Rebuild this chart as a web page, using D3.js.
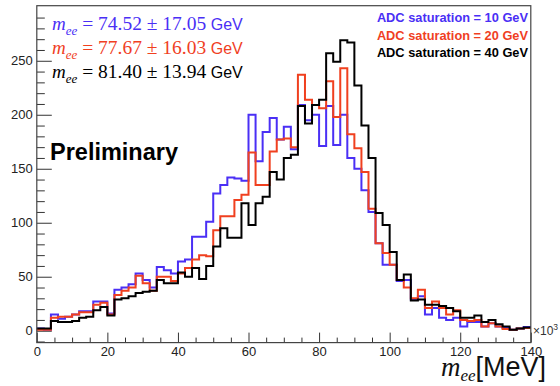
<!DOCTYPE html>
<html>
<head>
<meta charset="utf-8">
<script src="https://cdn.jsdelivr.net/npm/d3@7"></script>
<style>
  body { margin: 0; background: #fff; }
  text { font-family: "Liberation Sans", Arial, Helvetica, sans-serif; }
</style>
</head>
<body>
<script>
// bins: 70 bins of 2 GeV from 0 to 140 (x10^3 MeV)
var binEdges = d3.range(0, 141, 2);

var sat10 = [2, 1, 15, 11, 13, 15, 18, 18, 27, 27,
  16, 38, 40, 43, 53, 47, 40, 59, 56, 53,
  64, 66, 87, 87, 101, 127, 135, 142, 141, 139,
  200, 157, 184, 197, 177, 189, 168, 209, 195, 200,
  171, 208, 172, 200, 160, 150, 130, 110, 81, 61,
  61, 46, 47, 29, 32, 15, 21, 12, 10, 12,
  4, 8, 8, 4, 7, 4, 2.5, 1, 2, 3.5];

var sat20 = [1, 1, 12, 13, 13, 15, 17, 17, 24, 26,
  15, 33, 37, 40, 51, 44, 37, 50, 50, 46,
  53, 58, 66, 70, 69, 93, 106, 106, 121, 126,
  165, 135, 135, 166, 177, 178, 170, 237, 214, 209,
  206, 231, 198, 243, 182, 169, 147, 113, 81, 72,
  61, 47, 40, 30, 38, 21, 27, 21, 15, 19,
  10, 9, 10, 4, 7, 4, 1.5, 1, 2, 2.5];

var sat40 = [2, 2, 9, 8, 8, 9, 12, 13, 19, 22,
  14, 29, 30, 32, 35, 36, 37, 47, 44, 44,
  54, 50, 58, 48, 60, 78, 95, 86, 86, 118,
  98, 118, 124, 147, 140, 160, 163, 208, 192, 209,
  214, 257, 249, 269, 267, 227, 190, 160, 109, 98,
  73, 47, 52, 28, 29, 24, 24, 23, 21, 18,
  12, 12, 14, 8, 10, 6, 4, 1, 2, 3];

var seriesNames = ['ADC saturation = 10 GeV', 'ADC saturation = 20 GeV', 'ADC saturation = 40 GeV'];
var seriesColors = ['#4a2ff5', '#f0401f', '#000000'];
var meanLabels = ['74.52', '77.67', '81.40'];
var rmsLabels = ['17.05', '16.03', '13.94'];

var xMajor = [0, 20, 40, 60, 80, 100, 120, 140];
var yMajor = [0, 50, 100, 150, 200, 250];

var width = 560, height = 386;

var x = d3.scaleLinear().domain([0, 140]).range([36.8, 530.8]);
var y = d3.scaleLinear().domain([-11, 301]).range([342.6, 5.7]);

var svg = d3.select('body').append('svg')
  .attr('width', width)
  .attr('height', height);

// minor ticks
svg.append('g')
  .attr('transform', 'translate(0,' + y(-11) + ')')
  .call(d3.axisBottom(x)
    .tickValues(d3.range(0, 141, 5).filter(function(d) { return d % 20 !== 0; }))
    .tickSize(-5).tickFormat(''))
  .call(function(g) { g.select('.domain').remove(); });

svg.append('g')
  .attr('transform', 'translate(' + x(0) + ',0)')
  .call(d3.axisLeft(y)
    .tickValues(d3.range(-10, 301, 10).filter(function(d) { return d % 50 !== 0; }))
    .tickSize(-8).tickFormat(''))
  .call(function(g) { g.select('.domain').remove(); });

// major ticks
svg.append('g')
  .attr('transform', 'translate(0,' + y(-11) + ')')
  .call(d3.axisBottom(x).tickValues(xMajor).tickSize(-10).tickPadding(4))
  .call(function(g) { g.select('.domain').remove(); });

svg.append('g')
  .attr('transform', 'translate(' + x(0) + ',0)')
  .call(d3.axisLeft(y).tickValues(yMajor).tickSize(-15).tickPadding(4))
  .call(function(g) { g.select('.domain').remove(); });

svg.selectAll('.tick line').attr('stroke', '#333');
svg.selectAll('.tick text')
  .attr('fill', '#222')
  .style('font-size', '13px')
  .style('font-family', '"Liberation Sans", Arial, sans-serif');

// histograms
var line = d3.line()
  .x(function(d) { return x(d[0]); })
  .y(function(d) { return y(d[1]); })
  .curve(d3.curveStepAfter);

[sat10, sat20, sat40].forEach(function(vals, k) {
  var pts = vals.map(function(v, i) { return [binEdges[i], v]; });
  pts.push([binEdges[binEdges.length - 1], vals[vals.length - 1]]);
  svg.append('path')
    .datum(pts)
    .attr('d', line)
    .attr('fill', 'none')
    .attr('stroke', seriesColors[k])
    .attr('stroke-width', 2);
});

// frame
svg.append('rect')
  .attr('x', x(0)).attr('y', y(301))
  .attr('width', x(140) - x(0)).attr('height', y(-11) - y(301))
  .attr('fill', 'none')
  .attr('stroke', '#444')
  .attr('stroke-width', 1.2);

// mean +- rms labels
meanLabels.forEach(function(m, k) {
  var t = svg.append('text')
    .attr('x', 52)
    .attr('y', 29.5 + k * 24.3)
    .attr('fill', seriesColors[k]);
  t.append('tspan')
    .style('font-family', '"Liberation Serif", "Times New Roman", serif')
    .style('font-style', 'italic')
    .style('font-size', '19px')
    .text('m');
  t.append('tspan')
    .attr('dy', 5)
    .style('font-family', '"Liberation Serif", "Times New Roman", serif')
    .style('font-style', 'italic')
    .style('font-size', '13px')
    .text('ee');
  t.append('tspan')
    .attr('dy', -5)
    .style('font-family', '"Liberation Serif", "Times New Roman", serif')
    .style('font-size', '19.5px')
    .text(' = ' + m + ' \u00b1 ' + rmsLabels[k]);
  t.append('tspan')
    .style('font-size', '16px')
    .text(' GeV');
});

// saturation legend
seriesNames.forEach(function(s, k) {
  svg.append('text')
    .attr('x', 528)
    .attr('y', 22.3 + k * 17.2)
    .attr('text-anchor', 'end')
    .attr('fill', seriesColors[k])
    .style('font-weight', 'bold')
    .style('font-size', '12.8px')
    .text(s);
});

svg.append('text')
  .attr('x', 50)
  .attr('y', 159.5)
  .style('font-weight', 'bold')
  .style('font-size', '23.5px')
  .attr('fill', '#000')
  .text('Preliminary');

// x10^3
var e = svg.append('text')
  .attr('x', 533)
  .attr('y', 335)
  .attr('fill', '#333')
  .style('font-size', '12px');
e.append('tspan').text('\u00d710');
e.append('tspan').attr('dy', -5).style('font-size', '8.5px').text('3');

// axis title
var xt = svg.append('text')
  .attr('x', 441)
  .attr('y', 376)
  .attr('fill', '#111');
xt.append('tspan')
  .style('font-family', '"Liberation Serif", "Times New Roman", serif')
  .style('font-style', 'italic')
  .style('font-size', '27px')
  .text('m');
xt.append('tspan')
  .attr('dy', 5)
  .style('font-family', '"Liberation Serif", "Times New Roman", serif')
  .style('font-style', 'italic')
  .style('font-size', '17px')
  .text('ee');
xt.append('tspan')
  .attr('dy', -5)
  .style('font-size', '27px')
  .text('[MeV]');
</script>
</body>
</html>
